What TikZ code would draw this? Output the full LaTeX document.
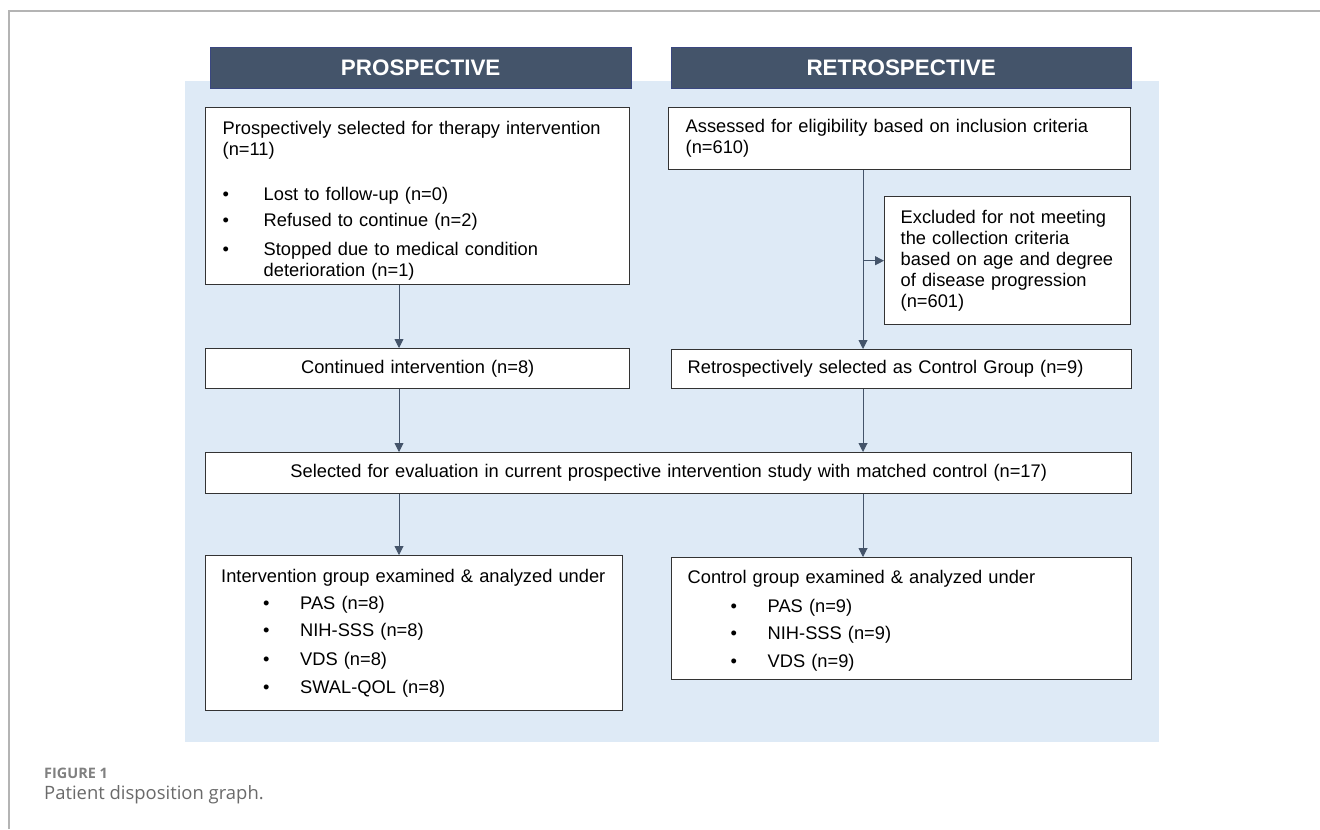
\documentclass[tikz,border=0pt]{standalone}
\usepackage{fontspec}
\setmainfont{Liberation Sans}
\newfontfamily\capfont{Open Sans}
\usetikzlibrary{arrows.meta, positioning}
\definecolor{hdrblue}{HTML}{44546A}
\definecolor{bgblue}{HTML}{DEEAF6}
\definecolor{boxline}{HTML}{333333}
\definecolor{framegray}{HTML}{B4B4B4}
\definecolor{capgray}{HTML}{6A6A6A}

% bullet with a fixed gap before its text
\newcommand{\bitem}[2]{\makebox[#1][l]{\textbullet}#2}

\begin{document}
\begin{tikzpicture}[x=1bp, y=-1bp, font=\fontsize{18.35}{21}\selectfont,
    >={Triangle[width=9bp,length=9bp]}]
  \tikzset{
    flowbox/.style={draw=boxline, line width=1.4bp, fill=white, anchor=north west,
      inner xsep=17bp, inner ysep=0pt, align=left},
    hdrbox/.style={fill=hdrblue, draw=hdrblue!85!blue, anchor=north west, text=white,
      font=\fontsize{22.5}{26}\selectfont\bfseries, inner sep=0pt, minimum height=41bp},
    flowarr/.style={->, draw=hdrblue, line width=0.9bp},
  }
  \useasboundingbox (0,0) rectangle (1320,829);

  % Ramecek a pozadi
  \draw[framegray, line width=1.5bp] (9,829) -- (9,11) -- (1320,11);
  \fill[bgblue] (185,81) rectangle (1159,742);

  % Zahlavi
  \node[hdrbox, minimum width=421bp] (hpro) at (210,47) {PROSPECTIVE};
  \node[hdrbox, minimum width=460bp] (hretro) at (671,47) {RETROSPECTIVE};

  % Prospektivni vetev
  \node[flowbox, text width=390bp, minimum height=177bp] (pros) at (205,107)
    {\rule{0pt}{22bp}Prospectively selected for therapy intervention\\(n=11)\\[24bp]
     \bitem{41bp}{Lost to follow-up (n=0)}\\[5bp]
     \bitem{41bp}{Refused to continue (n=2)}\\[8bp]
     \bitem{41bp}{Stopped due to medical condition}\\
     \hspace*{41bp}deterioration (n=1)};
  \node[flowbox, text width=390bp, minimum height=40bp, align=center] (cont) at (205,348)
    {Continued intervention (n=8)};

  % Retrospektivni vetev
  \node[flowbox, text width=428bp, minimum height=62bp] (assess) at (668,107)
    {Assessed for eligibility based on inclusion criteria\\(n=610)};
  \node[flowbox, inner xsep=16bp, text width=214bp, minimum height=128bp] (excl) at (884,196)
    {Excluded for not meeting\\the collection criteria\\based on age and degree\\of disease progression\\(n=601)};
  \node[flowbox, inner xsep=16bp, text width=428bp, minimum height=39bp] (retro) at (671,349)
    {Retrospectively selected as Control Group (n=9)};

  % Spolecny vyber
  \node[flowbox, text width=892bp, minimum height=41bp, align=center] (sel) at (205,452)
    {Selected for evaluation in current prospective intervention study with matched control (n=17)};

  % Skupiny
  \node[flowbox, inner xsep=15.5bp, text width=386bp, minimum height=155bp] (intv) at (205,555)
    {Intervention group examined \& analyzed under\\[6bp]
     \hspace*{42bp}\bitem{37bp}{PAS (n=8)}\\[6bp]
     \hspace*{42bp}\bitem{37bp}{NIH-SSS (n=8)}\\[8bp]
     \hspace*{42bp}\bitem{37bp}{VDS (n=8)}\\[7bp]
     \hspace*{42bp}\bitem{37bp}{SWAL-QOL (n=8)}};
  \node[flowbox, inner xsep=16bp, text width=428bp, minimum height=122bp] (ctrl) at (671,557)
    {\rule{0pt}{18bp}Control group examined \& analyzed under\\[8bp]
     \hspace*{43bp}\bitem{37bp}{PAS (n=9)}\\[6bp]
     \hspace*{43bp}\bitem{37bp}{NIH-SSS (n=9)}\\[7bp]
     \hspace*{43bp}\bitem{37bp}{VDS (n=9)}};

  % Sipky
  \coordinate (pcol) at (399,0);
  \coordinate (rcol) at (863,0);
  \draw[flowarr] (pros.south -| pcol) -- (cont.north -| pcol);
  \draw[flowarr] (cont.south -| pcol) -- (sel.north -| pcol);
  \draw[flowarr] (sel.south -| pcol) -- (intv.north -| pcol);
  \draw[flowarr] (assess.south -| rcol) -- (retro.north -| rcol);
  \draw[flowarr] (excl.west -| rcol) -- (excl.west);
  \draw[flowarr] (retro.south -| rcol) -- (sel.north -| rcol);
  \draw[flowarr] (sel.south -| rcol) -- (ctrl.north -| rcol);

  % Popisek
  \node[anchor=west, inner sep=0pt, text=capgray!85,
    font=\capfont\fontsize{14.5}{16}\selectfont\bfseries] (fignum) at (44,773) {FIGURE 1};
  \node[anchor=west, inner sep=0pt, text=capgray,
    font=\capfont\fontsize{18.5}{22}\selectfont] (figcap) at (44,795) {Patient disposition graph.};
\end{tikzpicture}
\end{document}
